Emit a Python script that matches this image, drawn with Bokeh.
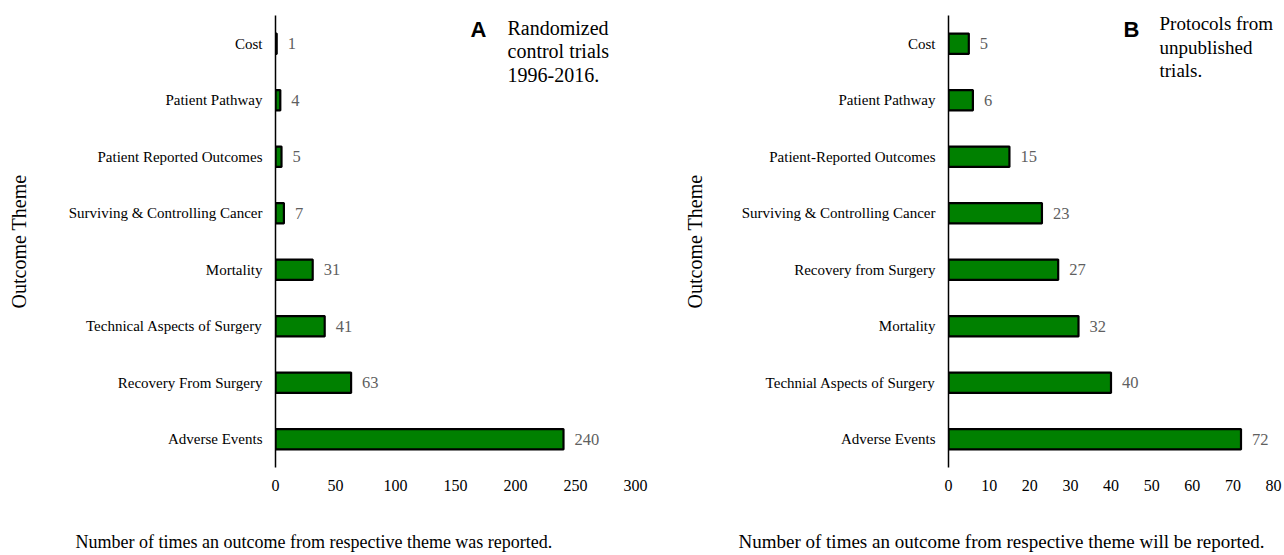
from bokeh.plotting import figure
from bokeh.layouts import row
from bokeh.models import (Range1d, FactorRange, FixedTicker, Label, Title,
                          ColumnDataSource, LinearAxis)
from bokeh.core.properties import value
from bokeh.embed import file_html
from bokeh.resources import INLINE

# ---- data (top-to-bottom order as shown) ----
cats_a = ["Cost", "Patient Pathway", "Patient Reported Outcomes",
          "Surviving & Controlling Cancer", "Mortality",
          "Technical Aspects of Surgery", "Recovery From Surgery", "Adverse Events"]
vals_a = [1, 4, 5, 7, 31, 41, 63, 240]
ticks_a = [0, 50, 100, 150, 200, 250, 300]

cats_b = ["Cost", "Patient Pathway", "Patient-Reported Outcomes",
          "Surviving & Controlling Cancer", "Recovery from Surgery", "Mortality",
          "Technial Aspects of Surgery", "Adverse Events"]
vals_b = [5, 6, 15, 23, 27, 32, 40, 72]
ticks_b = [0, 10, 20, 30, 40, 50, 60, 70, 80]

xlabel_a = "Number of times an outcome from respective theme was reported."
xlabel_b = "Number of times an outcome from respective theme will be reported."
note_a = ["Randomized", "control trials", "1996-2016."]
note_b = ["Protocols from", "unpublished", "trials."]

SERIF = "Liberation Serif"
SANS = "Liberation Sans"
GREEN = "#008000"

FRAME_TOP = 15
FRAME_H = 452
FIG_H = 555


def make_panel(cats, vals, ticks, xmax, x0, width, left, right, letter, note,
               letter_px, letter_base, note_px, note_base, note_size,
               xlabel, xlabel_offset, xlabel_size, spacer_out, ylabel_standoff):
    frame_w = width - left - right
    p = figure(width=width, height=FIG_H, output_backend="svg", toolbar_location=None,
               y_range=FactorRange(factors=list(reversed(cats))),
               x_range=Range1d(0, xmax),
               min_border_left=left, min_border_right=right,
               min_border_top=FRAME_TOP, min_border_bottom=FIG_H - FRAME_TOP - FRAME_H)
    p.outline_line_color = None
    p.xgrid.grid_line_color = None
    p.ygrid.grid_line_color = None
    p.background_fill_color = "white"
    p.border_fill_color = "white"

    src = ColumnDataSource(dict(cat=cats, val=vals, lab=[str(v) for v in vals]))
    p.hbar(y="cat", right="val", left=0, height=0.36, source=src,
           fill_color=GREEN, line_color="black", line_width=2.2)
    p.text(x="val", y="cat", text="lab", source=src, x_offset=11,
           text_baseline="middle", text_align="left",
           text_font=value(SERIF), text_font_size="16.5px", text_color="#5f5f5f")

    # y axis (categories)
    ya = p.yaxis[0]
    ya.axis_line_color = "black"
    ya.axis_line_width = 1.5
    ya.major_tick_line_color = None
    ya.minor_tick_line_color = None
    ya.major_tick_out = 0
    ya.major_tick_in = 0
    ya.major_label_text_font = SERIF
    ya.major_label_text_font_size = "15px"
    ya.major_label_text_color = "black"
    ya.major_label_standoff = 13
    ya.axis_label = "Outcome Theme"
    ya.axis_label_text_font = SERIF
    ya.axis_label_text_font_size = "20px"
    ya.axis_label_text_font_style = "normal"
    ya.axis_label_text_color = "black"
    ya.axis_label_standoff = ylabel_standoff

    # x axis (values)
    xa = p.xaxis[0]
    xa.ticker = FixedTicker(ticks=ticks)
    xa.axis_line_color = None
    xa.major_tick_line_color = None
    xa.minor_tick_line_color = None
    xa.major_tick_out = 0
    xa.major_tick_in = 0
    xa.major_label_text_font = SERIF
    xa.major_label_text_font_size = "16px"
    xa.major_label_text_color = "black"
    xa.major_label_standoff = 12

    # blank spacer axis (one invisible tick, no label) to push the axis title down
    spacer = LinearAxis(ticker=FixedTicker(ticks=[0]), major_label_overrides={0: ""},
                        axis_line_color=None, major_tick_line_color="white",
                        minor_tick_line_color=None, major_tick_out=spacer_out, major_tick_in=0,
                        major_label_standoff=0)
    p.add_layout(spacer, "below")
    p.add_layout(Title(text=xlabel, align="left", offset=xlabel_offset, standoff=2,
                       text_font=SERIF, text_font_size=xlabel_size, text_font_style="normal",
                       text_color="black"), "below")

    # helpers: page-pixel -> data
    def dx(px):
        return (px - x0 - left) / frame_w * xmax

    def dy(py):
        return len(cats) - (py - FRAME_TOP) / FRAME_H * len(cats)

    p.add_layout(Label(x=dx(letter_px), y=dy(letter_base), text=letter,
                       text_font=SANS, text_font_style="bold", text_font_size="22px",
                       text_color="black", text_baseline="alphabetic", text_align="left"))
    for i, line in enumerate(note):
        p.add_layout(Label(x=dx(note_px), y=dy(note_base + 23.5 * i), text=line,
                           text_font=SERIF, text_font_size=note_size,
                           text_color="black", text_baseline="alphabetic", text_align="left"))
    return p


# panel A: figure spans page x 0..660, frame 275..635
pA = make_panel(cats_a, vals_a, ticks_a, 300, 0, 660, 275, 25, "A", note_a,
                letter_px=470, letter_base=29, note_px=507, note_base=27, note_size="20px",
                xlabel=xlabel_a, xlabel_offset=75 - 275, xlabel_size="18px", spacer_out=35,
                ylabel_standoff=36)
# panel B: figure spans page x 660..1284, frame 948..1273
pB = make_panel(cats_b, vals_b, ticks_b, 80, 660, 624, 288, 11, "B", note_b,
                letter_px=1123, letter_base=29, note_px=1159, note_base=23, note_size="19px",
                xlabel=xlabel_b, xlabel_offset=738 - 948, xlabel_size="19px", spacer_out=34,
                ylabel_standoff=33)

layout = row(pA, pB)
open("out.html", "w").write(file_html(layout, INLINE))
